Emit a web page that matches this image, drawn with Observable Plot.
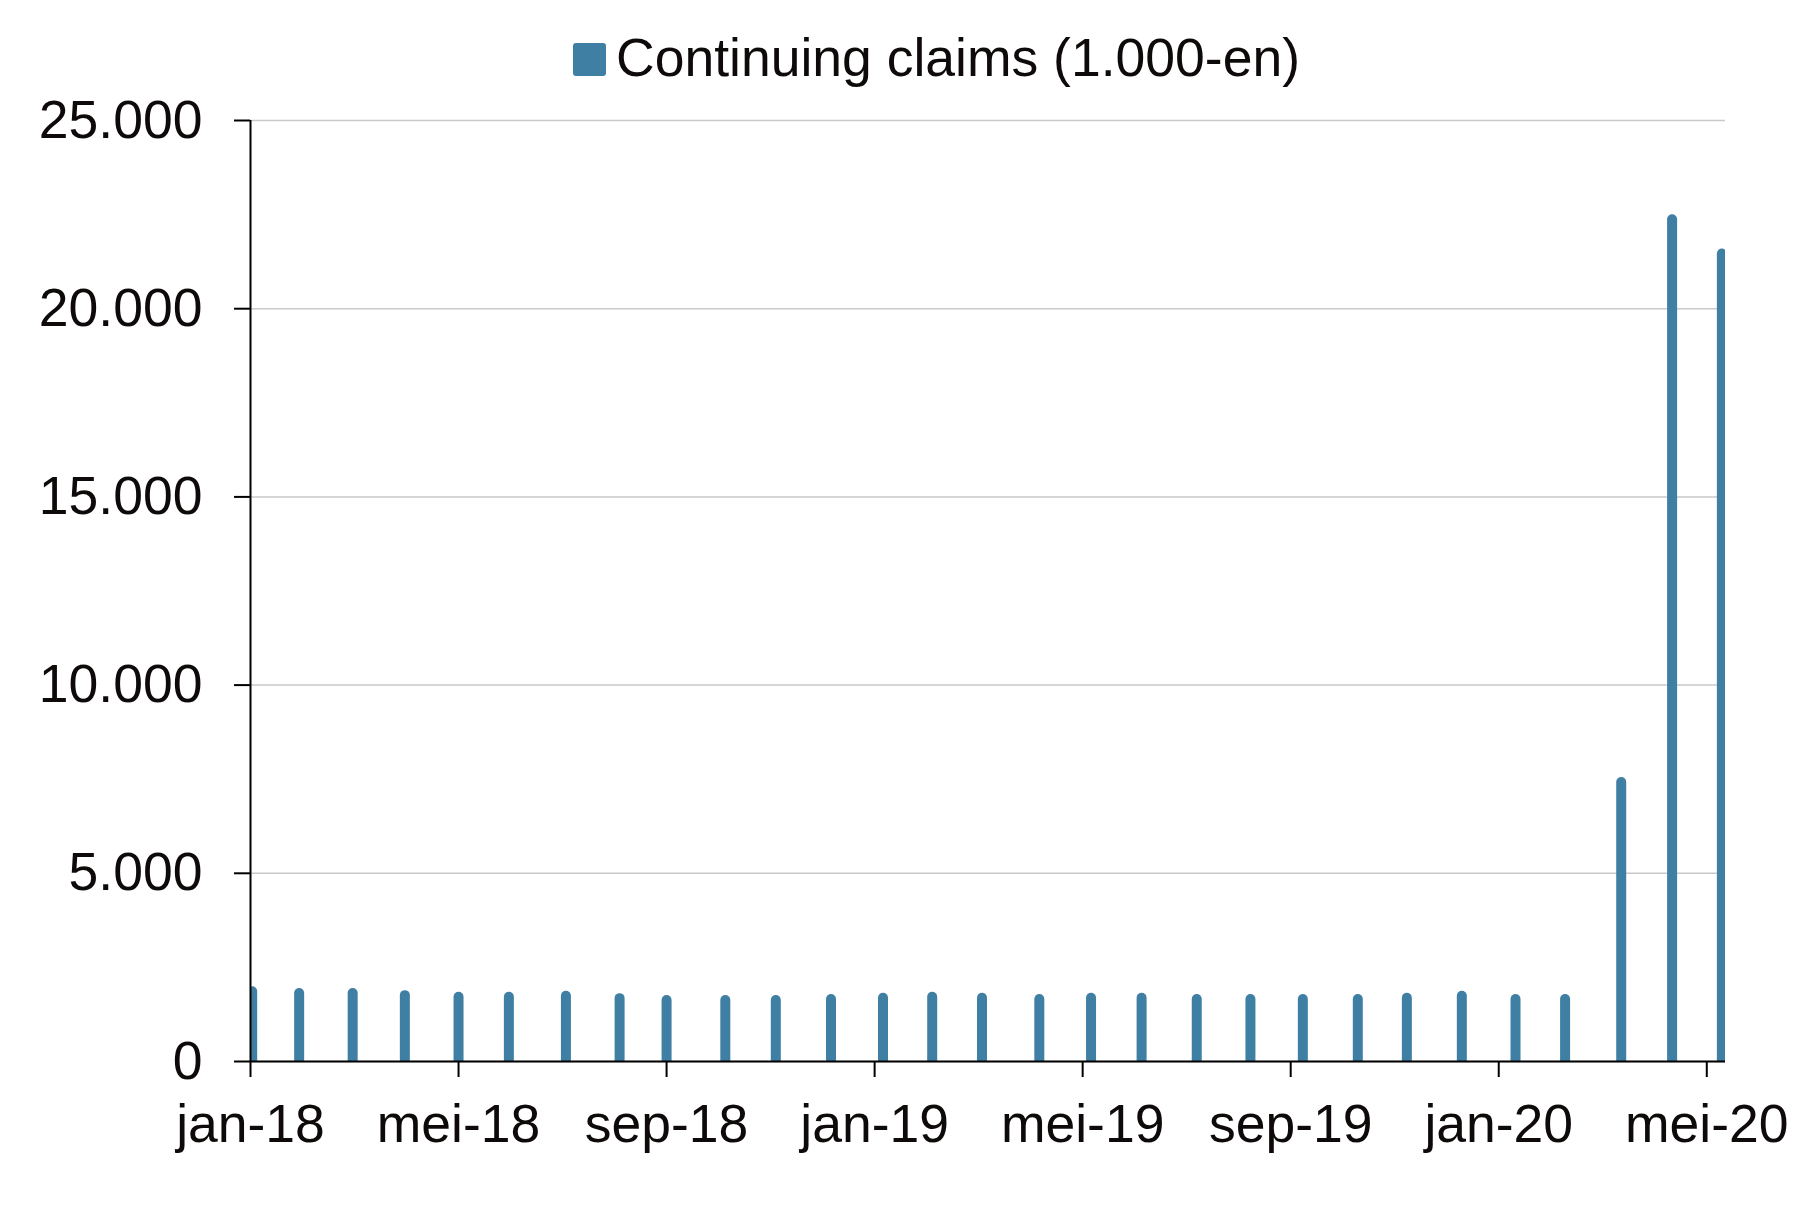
<!DOCTYPE html>
<html>
<head>
<meta charset="utf-8">
<script src="https://cdn.jsdelivr.net/npm/d3@7"></script>
<script src="https://cdn.jsdelivr.net/npm/@observablehq/plot@0.6"></script>
<style>
  html, body { margin: 0; padding: 0; background: #ffffff; }
  #wrap { position: relative; width: 1806px; height: 1209px; font-family: "Liberation Sans", Arial, sans-serif; color: #0f0a0a; }
  #legend { position: relative; height: 100px; }
  #legend .swatch { position: absolute; left: 573px; top: 43px; width: 33px; height: 33px; border-radius: 3px; background: #3f7fa3; }
  #legend .label { position: absolute; left: 616px; top: 31px; font-size: 53.5px; line-height: 53.5px; white-space: nowrap; }
  svg { display: block; }
</style>
</head>
<body>
<div id="wrap">
  <div id="legend"><div class="swatch"></div><div class="label">Continuing claims (1.000-en)</div></div>
  <div id="chart"></div>
</div>
<script>
// Reference dates of the observations (one per month)
const dates = [
  "2018-01-02", "2018-01-30", "2018-02-28", "2018-03-31", "2018-05-01", "2018-05-31",
  "2018-07-03", "2018-08-04", "2018-09-01", "2018-10-05", "2018-11-04", "2018-12-06",
  "2019-01-06", "2019-02-04", "2019-03-03", "2019-04-06", "2019-05-06", "2019-06-05",
  "2019-07-07", "2019-08-08", "2019-09-08", "2019-10-10", "2019-11-08", "2019-12-10",
  "2020-01-11", "2020-02-09", "2020-03-12", "2020-04-11", "2020-05-10"
];

// Continuing claims, in thousands
const claims = [
  1850, 1805, 1805, 1750, 1705, 1705,
  1735, 1670, 1620, 1620, 1620, 1645,
  1680, 1705, 1680, 1645, 1680, 1680,
  1645, 1645, 1645, 1645, 1680, 1735,
  1645, 1645, 7410, 22360, 21450
];

// Axis ticks and their labels
const yTicks = [0, 5000, 10000, 15000, 20000, 25000];
const xTickLabels = ["jan-18", "mei-18", "sep-18", "jan-19", "mei-19", "sep-19", "jan-20", "mei-20"];

// The horizontal axis runs in months since January 2018, so every month gets the same width.
const start = new Date(Date.UTC(2018, 0, 1));
function monthPosition(s) {
  const d = new Date(s + "T00:00:00Z");
  const m0 = d3.utcMonth.floor(d);
  const m1 = d3.utcMonth.offset(m0, 1);
  return d3.utcMonth.count(start, m0) + (d - m0) / (m1 - m0);
}

const table = dates.map((s, i) => ({date: s, pos: monthPosition(s), value: claims[i]}));
const xTicks = xTickLabels.map((_, i) => i * 4);

const nl = d3.formatLocale({decimal: ",", thousands: ".", grouping: [3], currency: ["€", ""]});
const fmt = nl.format(",");

const barColor = "#3f7fa3";
const ink = "#0f0a0a";

const chart = Plot.plot({
  width: 1806,
  height: 1109,
  marginTop: 20,
  marginBottom: 148,
  marginLeft: 250,
  marginRight: 81,
  x: {type: "linear", domain: [0, 28.36]},
  y: {domain: [0, 25000]},
  style: {fontFamily: "'Liberation Sans', Arial, sans-serif", fontSize: "53.5px", color: ink, background: "#ffffff", overflow: "visible"},
  marks: [
    Plot.gridY(yTicks, {stroke: "#c9c9c9", strokeOpacity: 1, strokeWidth: 1.5}),
    Plot.ruleX(table, {x: "pos", y1: 0, y2: "value", stroke: barColor, strokeWidth: 10, strokeLinecap: "round", clip: true}),
    Plot.ruleX([0], {stroke: "#000000", strokeWidth: 2}),
    Plot.ruleY([0], {stroke: "#000000", strokeWidth: 2}),
    Plot.axisY({ticks: yTicks, tickSize: 16, tickPadding: 32, tickFormat: fmt, stroke: "#000000", strokeWidth: 2, fill: ink, label: null}),
    Plot.axisX({ticks: xTicks, tickSize: 16, tickPadding: 26, tickFormat: (d, i) => xTickLabels[i], stroke: "#000000", strokeWidth: 2, fill: ink, label: null})
  ]
});

document.getElementById("chart").appendChild(chart);
</script>
</body>
</html>
